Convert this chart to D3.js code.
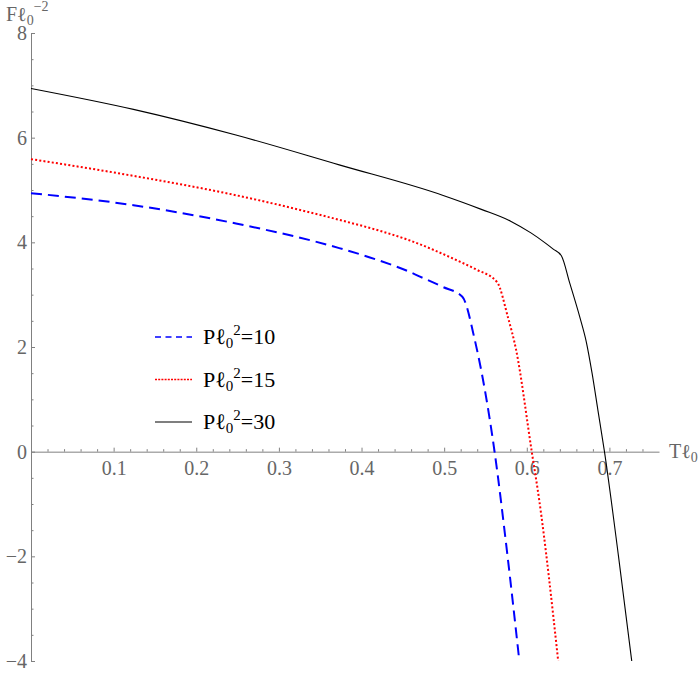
<!DOCTYPE html>
<html>
<head>
<meta charset="utf-8">
<script src="https://cdn.jsdelivr.net/npm/d3@7"></script>
<style>
  body { margin: 0; background: #fff; }
</style>
</head>
<body>
<div class="display"></div>
<script>
const WIDTH = 700;
const HEIGHT = 676;
const FONT = 'Liberation Serif';

// P l0^2 = 10 (blue, dashed)
const T_P10 = [0, 0.124, 0.248, 0.373, 0.42, 0.456, 0.47, 0.498, 0.522, 0.537, 0.561, 0.576, 0.591];
const F_P10 = [4.94, 4.71, 4.36, 3.89, 3.66, 3.45, 3.35, 3.15, 2.96, 2.14, 0, -1.9, -4];

// P l0^2 = 15 (red, dotted)
const T_P15 = [0, 0.124, 0.248, 0.373, 0.42, 0.456, 0.519, 0.539, 0.564, 0.577, 0.587, 0.606, 0.615, 0.638];
const F_P15 = [5.59, 5.27, 4.90, 4.43, 4.23, 4.05, 3.63, 3.48, 3.24, 2.58, 1.95, 0, -0.92, -4];

// P l0^2 = 30 (black, solid)
const T_P30 = [0, 0.124, 0.248, 0.373, 0.498, 0.545, 0.581, 0.605, 0.623, 0.632, 0.642, 0.652, 0.664, 0.672, 0.679, 0.686, 0.694, 0.711, 0.727];
const F_P30 = [6.94, 6.54, 6.05, 5.48, 4.90, 4.63, 4.40, 4.18, 3.98, 3.87, 3.74, 3.22, 2.58, 2.10, 1.50, 0.80, 0, -2.0, -4];

const X_TICKS = [0.1, 0.2, 0.3, 0.4, 0.5, 0.6, 0.7];
const Y_TICKS = [-4, -2, 0, 2, 4, 6, 8];
const LEGEND_VALUES = ['10', '15', '30'];

const SERIES = [
  { t: T_P10, f: F_P10, color: '#0000ff', width: 2, dash: '11,6', legendDash: '6,4.5' },
  { t: T_P15, f: F_P15, color: '#ff0000', width: 2, dash: '2,2.2', legendDash: '2,1.2' },
  { t: T_P30, f: F_P30, color: '#000000', width: 1.1, dash: null, legendDash: null }
];

const AXIS_COLOR = '#808080';
const LABEL_COLOR = '#666666';

let svg, x, y;

function setupSvg() {
  svg = d3.select('.display')
    .append('svg')
    .attr('width', WIDTH)
    .attr('height', HEIGHT)
    .attr('font-family', FONT);

  x = d3.scaleLinear().domain([0, 0.76]).range([31, 659]);
  y = d3.scaleLinear().domain([-4, 8]).range([661, 33]);
}

function styleTicks(g) {
  g.attr('font-family', FONT).attr('font-size', 20);
  g.select('.domain').attr('stroke', AXIS_COLOR);
  g.selectAll('line').attr('stroke', AXIS_COLOR);
  g.selectAll('text')
    .attr('fill', LABEL_COLOR)
    .attr('font-family', FONT);
}

function drawAxes() {
  const fmtX = d3.format('.1f');
  const fmtY = d3.format('d');

  // minor ticks
  const minorX = d3.range(1, 38).map(i => i * 0.02).filter(v => Math.abs(v * 10 - Math.round(v * 10)) > 1e-6);
  const minorY = d3.range(-8, 17).map(i => i * 0.5).filter(v => v % 2 !== 0);

  svg.append('g')
    .attr('transform', `translate(0, ${y(0)})`)
    .call(d3.axisBottom(x).tickValues(minorX).tickSizeInner(-2.5).tickSizeOuter(0).tickFormat(''))
    .call(g => g.select('.domain').remove())
    .call(g => g.selectAll('line').attr('stroke', AXIS_COLOR));

  svg.append('g')
    .attr('transform', `translate(${x(0)}, 0)`)
    .call(d3.axisLeft(y).tickValues(minorY).tickSizeInner(-2.5).tickSizeOuter(0).tickFormat(''))
    .call(g => g.select('.domain').remove())
    .call(g => g.selectAll('line').attr('stroke', AXIS_COLOR));

  // major ticks
  svg.append('g')
    .attr('transform', `translate(0, ${y(0)})`)
    .call(d3.axisBottom(x).tickValues(X_TICKS).tickSizeInner(-4).tickSizeOuter(0).tickPadding(9).tickFormat(fmtX))
    .call(styleTicks);

  svg.append('g')
    .attr('transform', `translate(${x(0)}, 0)`)
    .call(d3.axisLeft(y).tickValues(Y_TICKS).tickSizeInner(-4).tickSizeOuter(0).tickPadding(4).tickFormat(fmtY))
    .call(styleTicks);

  // axis titles
  const yTitle = svg.append('text')
    .attr('x', 6)
    .attr('y', 21)
    .attr('fill', LABEL_COLOR)
    .attr('font-family', FONT)
    .attr('font-size', 20);
  yTitle.append('tspan').text('F\u2113');
  yTitle.append('tspan').attr('dy', 4).attr('font-size', 14).text('0');
  yTitle.append('tspan').attr('dy', -14).attr('font-size', 14).text('\u22122');

  const xTitle = svg.append('text')
    .attr('x', 669)
    .attr('y', y(0) + 6)
    .attr('fill', LABEL_COLOR)
    .attr('font-family', FONT)
    .attr('font-size', 20);
  xTitle.append('tspan').text('T\u2113');
  xTitle.append('tspan').attr('dy', 4).attr('font-size', 14).text('0');
}

function drawCurves() {
  const line = d3.line()
    .x(d => x(d[0]))
    .y(d => y(d[1]))
    .curve(d3.curveMonotoneX);

  SERIES.forEach(s => {
    const pts = s.t.map((t, i) => [t, s.f[i]]);
    svg.append('path')
      .datum(pts)
      .attr('d', line)
      .attr('fill', 'none')
      .attr('stroke', s.color)
      .attr('stroke-width', s.width)
      .attr('stroke-dasharray', s.dash);
  });
}

function drawLegend() {
  const legendGroup = svg.append('g')
    .attr('transform', 'translate(155, 337)');

  for (let i = 0; i < SERIES.length; i++) {
    const s = SERIES[i];
    const ly = i * 42.5;

    legendGroup.append('line')
      .attr('x1', 0)
      .attr('x2', 37)
      .attr('y1', ly)
      .attr('y2', ly)
      .attr('stroke', s.color)
      .attr('stroke-width', s.width === 2 ? 1.6 : 1.1)
      .attr('stroke-dasharray', s.legendDash);

    const label = legendGroup.append('text')
      .attr('x', 48)
      .attr('y', ly + 7)
      .attr('fill', '#000')
      .attr('font-family', FONT)
      .attr('font-size', 22);
    label.append('tspan').text('P\u2113');
    label.append('tspan').attr('dy', 4).attr('font-size', 15).text('0');
    label.append('tspan').attr('dy', -13).attr('font-size', 15).text('2');
    label.append('tspan').attr('dy', 9).text('=' + LEGEND_VALUES[i]);
  }
}

window.addEventListener('load', () => {
  setupSvg();
  drawAxes();
  drawCurves();
  drawLegend();
}, false);
</script>
</body>
</html>
